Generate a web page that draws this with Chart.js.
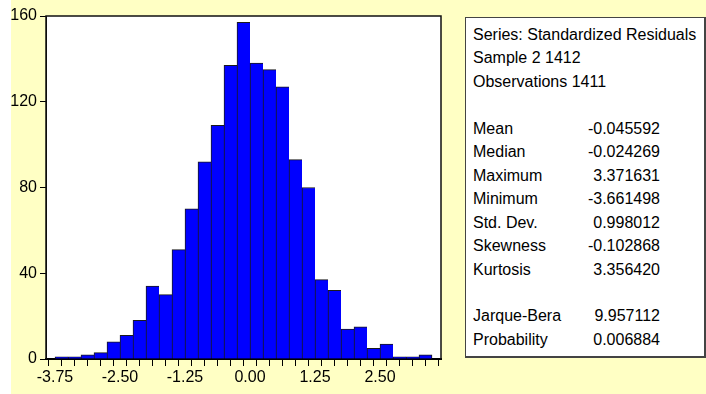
<!DOCTYPE html>
<html>
<head>
<meta charset="utf-8">
<script src="https://cdn.jsdelivr.net/npm/chart.js@4.4.0/dist/chart.umd.min.js"></script>
<style>
  html, body { margin: 0; padding: 0; background: #ffffc4; }
  #wrap { position: relative; width: 706px; height: 394px; overflow: hidden; background: #ffffc4; }
  #strip { position: absolute; left: 0; top: 0; width: 11px; height: 394px; background: #fff; }
  #c { position: absolute; left: 0; top: 0; }
  #stats {
    position: absolute; left: 465px; top: 17px; width: 241px; height: 341px;
    background: #fff; border: 1px solid #444; border-right-width: 2px; border-bottom-width: 2px; box-sizing: border-box;
    font: 16px "Liberation Sans", Arial, sans-serif; color: #000;
  }
  .row { position: absolute; left: 7px; width: 187px; height: 20px; line-height: 20px; white-space: nowrap; }
  .row .v { position: absolute; right: 0; top: 0; }
</style>
</head>
<body>
<div id="wrap">
  <div id="strip"></div>
  <canvas id="c" width="706" height="394"></canvas>
  <div id="stats"></div>
</div>
<script>
// histogram bins (left edges), width 0.25
const binStarts = [-3.75, -3.5, -3.25, -3.0, -2.75, -2.5, -2.25, -2.0, -1.75, -1.5,
  -1.25, -1.0, -0.75, -0.5, -0.25, 0.0, 0.25, 0.5, 0.75, 1.0,
  1.25, 1.5, 1.75, 2.0, 2.25, 2.5, 2.75, 3.0, 3.25]
const binWidth = 0.25
const counts = [1, 1, 2, 3, 8, 11, 18, 34, 30, 51,
  70, 92, 109, 137, 157, 138, 135, 127, 93, 80,
  37, 32, 14, 15, 5, 7, 1, 1, 2]

const xTickLabels = [-3.75, -2.5, -1.25, 0, 1.25, 2.5]
const yTickValues = [0, 40, 80, 120, 160]

const headerLines = ['Series: Standardized Residuals', 'Sample 2 1412', 'Observations 1411']
const statNames = ['Mean', 'Median', 'Maximum', 'Minimum', 'Std. Dev.', 'Skewness', 'Kurtosis']
const statValues = ['-0.045592', '-0.024269', '3.371631', '-3.661498', '0.998012', '-0.102868', '3.356420']
const testNames = ['Jarque-Bera', 'Probability']
const testValues = ['9.957112', '0.006884']

// stats panel (html text)
const statsBox = document.getElementById('stats')
const rows = []
headerLines.forEach(t => rows.push([t, '']))
rows.push(null)
statNames.forEach((n, i) => rows.push([n, statValues[i]]))
rows.push(null)
testNames.forEach((n, i) => rows.push([n, testValues[i]]))
rows.forEach((r, i) => {
  if (!r) return
  const d = document.createElement('div')
  d.className = 'row'
  d.style.top = (35 + i * 23.45 - 18 - 10) + 'px'
  d.textContent = r[0]
  if (r[1]) {
    const v = document.createElement('span')
    v.className = 'v'
    v.textContent = r[1]
    d.appendChild(v)
  }
  statsBox.appendChild(d)
})

const minorTicks = binStarts.concat([binStarts[binStarts.length - 1] + binWidth])

const framePlugin = {
  id: 'frame',
  beforeDraw(chart) {
    const { ctx, chartArea: a } = chart
    ctx.save()
    ctx.fillStyle = '#ffffff'
    ctx.fillRect(a.left, a.top, a.right - a.left, a.bottom - a.top)
    ctx.restore()
  },
  afterDraw(chart) {
    const { ctx, chartArea: a } = chart
    ctx.save()
    ctx.strokeStyle = '#111'
    ctx.lineWidth = 1.5
    ctx.beginPath()
    ctx.moveTo(a.left, a.bottom)
    ctx.lineTo(a.left, a.top)
    ctx.lineTo(a.right, a.top)
    ctx.lineTo(a.right, a.bottom)
    ctx.stroke()
    ctx.restore()
  }
}

Chart.defaults.font.family = '"Liberation Sans", Arial, sans-serif'
Chart.defaults.font.size = 16
Chart.defaults.color = '#000'

const lastIdx = counts.length - 1
new Chart(document.getElementById('c'), {
  type: 'bar',
  data: {
    datasets: [{
      data: binStarts.map((s, i) => ({ x: s + binWidth / 2, y: counts[i] })),
      backgroundColor: '#0000ff',
      borderColor: '#1a1a1a',
      borderWidth: (c) => ({ left: 1, top: 1, right: c.dataIndex === lastIdx ? 1 : 0, bottom: 0 }),
      borderSkipped: false,
      barPercentage: 1,
      categoryPercentage: 1
    }]
  },
  options: {
    responsive: false,
    animation: false,
    layout: { padding: { top: 16, right: 265, left: 0, bottom: 0 } },
    plugins: { legend: { display: false }, tooltip: { enabled: false } },
    scales: {
      x: {
        type: 'linear',
        offset: false,
        min: -3.923,
        max: 3.673,
        afterBuildTicks: (s) => { s.ticks = minorTicks.map(v => ({ value: v })) },
        afterFit: (s) => { s.height = 35 },
        grid: { drawOnChartArea: false, drawTicks: true, tickLength: 7, color: '#000', tickWidth: 1 },
        border: { display: true, color: '#000', width: 2 },
        ticks: {
          autoSkip: false,
          maxRotation: 0,
          padding: 2,
          callback: (v) => xTickLabels.includes(v) ? v.toFixed(2) : ''
        }
      },
      y: {
        min: 0,
        max: 160,
        afterBuildTicks: (s) => { s.ticks = yTickValues.map(v => ({ value: v })) },
        afterFit: (s) => { s.width = 46 },
        grid: { drawOnChartArea: false, drawTicks: true, tickLength: 6, color: '#000' },
        border: { display: true, color: '#000', width: 1 },
        ticks: { padding: 3 }
      }
    }
  },
  plugins: [framePlugin]
})
</script>
</body>
</html>
